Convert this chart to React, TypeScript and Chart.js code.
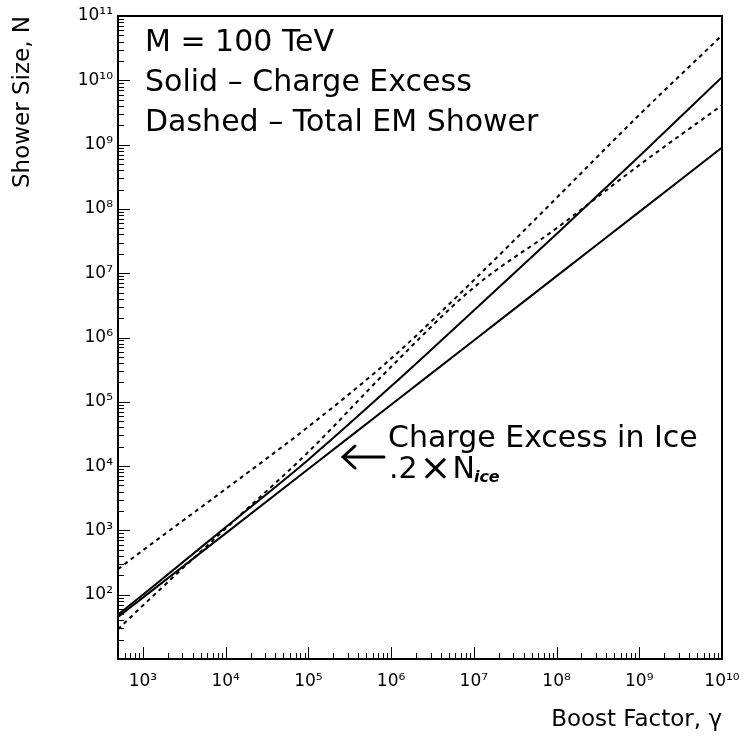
import React, { useEffect, useRef } from "react";
import { Chart, registerables } from "chart.js";

Chart.register(...registerables);

// Boost factor gamma (x) and shower sizes N (y)
const gamma = [500, 1e3, 1e4, 1e5, 1e6, 1e7, 1e8, 1e9, 1e10];
const chargeExcessSteep = [49, 100, 1120, 1.26e4, 1.74e5, 2.63e6, 4.07e7, 6.6e8, 1.12e10];
const chargeExcessIce = [45, 90, 900, 9.0e3, 9.0e4, 9.0e5, 9.0e6, 9.0e7, 9.0e8];
const totalEmUpper = [250, 490, 4400, 4.1e4, 4.7e5, 7.8e6, 1.48e8, 2.9e9, 5.0e10];
const totalEmLower = [29, 68, 1070, 1.66e4, 3.5e5, 6.0e6, 5.0e7, 4.8e8, 4.1e9];

const xMin = 500;
const xMax = 1e10;
const yMin = 10;
const yMax = 1e11;

const headerLines = ["M = 100 TeV", "Solid – Charge Excess", "Dashed – Total EM Shower"];
const noteLine1 = "Charge Excess in Ice";
const xTitle = "Boost Factor, γ";
const yTitle = "Shower Size, N";

const FONT = '"DejaVu Sans", sans-serif';

const SUP: Record<string, string> = {
  "0": "⁰", "1": "¹", "2": "²", "3": "³", "4": "⁴",
  "5": "⁵", "6": "⁶", "7": "⁷", "8": "⁸", "9": "⁹",
};

function decadeExp(v: number): number | null {
  const l = Math.log10(v);
  const e = Math.round(l);
  return Math.abs(l - e) < 1e-9 ? e : null;
}

function powLabel(v: number): string {
  const e = decadeExp(v);
  if (e === null) return "";
  return "10" + String(e).split("").map((c) => SUP[c]).join("");
}

function logTicks(min: number, max: number): number[] {
  const out: number[] = [];
  const e0 = Math.floor(Math.log10(min));
  const e1 = Math.ceil(Math.log10(max));
  for (let e = e0; e <= e1; e++) {
    for (let s = 1; s <= 9; s++) {
      const v = s * Math.pow(10, e);
      if (v >= min * 0.999999 && v <= max * 1.000001) out.push(v);
    }
  }
  return out;
}

const xTickValues = logTicks(xMin, xMax);
const yTickValues = logTicks(yMin, yMax);

const framePlugin = {
  id: "frameAndNotes",
  afterDraw(chart: any) {
    const { ctx, chartArea: a, scales } = chart;
    ctx.save();
    ctx.strokeStyle = "#000";
    ctx.fillStyle = "#000";
    // minor / major tick marks pointing inward
    ctx.lineWidth = 1;
    for (const t of scales.x.ticks) {
      const px = Math.round(scales.x.getPixelForValue(t.value)) + 0.5;
      const len = decadeExp(t.value) !== null ? 12 : 6;
      ctx.beginPath();
      ctx.moveTo(px, a.bottom);
      ctx.lineTo(px, a.bottom - len);
      ctx.stroke();
    }
    for (const t of scales.y.ticks) {
      const py = Math.round(scales.y.getPixelForValue(t.value)) + 0.5;
      const len = decadeExp(t.value) !== null ? 12 : 6;
      ctx.beginPath();
      ctx.moveTo(a.left, py);
      ctx.lineTo(a.left + len, py);
      ctx.stroke();
    }
    // frame
    ctx.lineWidth = 2;
    ctx.strokeRect(a.left, a.top, a.right - a.left, a.bottom - a.top);

    // header text
    ctx.font = `30px ${FONT}`;
    ctx.textBaseline = "alphabetic";
    ctx.textAlign = "left";
    const baselines = [51, 91, 131];
    headerLines.forEach((s, i) => ctx.fillText(s, a.left + 27, a.top + baselines[i] - 16));

    // annotation
    const ax = a.left + 270;
    const ay = a.top + 431;
    ctx.fillText(noteLine1, ax, ay);
    let x = ax + 1;
    const y2 = ay + 31;
    ctx.fillText(".2", x, y2);
    x += ctx.measureText(".2").width + 2;
    ctx.font = `38px ${FONT}`;
    ctx.fillText("×", x, y2 + 2);
    x += ctx.measureText("×").width + 1;
    ctx.font = `30px ${FONT}`;
    ctx.fillText("N", x, y2);
    x += ctx.measureText("N").width;
    ctx.font = `italic bold 16px ${FONT}`;
    ctx.fillText("ice", x - 1, y2 + 4);

    // arrow
    ctx.lineWidth = 3;
    ctx.lineCap = "round";
    const arX0 = a.left + 225;
    const arX1 = a.left + 266;
    const arY = a.top + 441;
    ctx.beginPath();
    ctx.moveTo(arX1, arY);
    ctx.lineTo(arX0, arY);
    ctx.moveTo(arX0 + 12, arY - 11);
    ctx.lineTo(arX0, arY);
    ctx.lineTo(arX0 + 12, arY + 11);
    ctx.stroke();
    ctx.restore();
  },
};

function series(values: number[]) {
  return gamma.map((g, i) => ({ x: g, y: values[i] }));
}

export default function App() {
  const ref = useRef<HTMLCanvasElement | null>(null);

  useEffect(() => {
    if (!ref.current) return;
    const common = {
      borderColor: "#000",
      borderWidth: 2,
      pointRadius: 0,
      fill: false,
      cubicInterpolationMode: "monotone" as const,
    };
    const chart = new Chart(ref.current, {
      type: "line",
      data: {
        datasets: [
          { label: "Charge excess", data: series(chargeExcessSteep), ...common },
          { label: "Charge excess in ice (.2×N_ice)", data: series(chargeExcessIce), ...common },
          { label: "Total EM shower (upper)", data: series(totalEmUpper), ...common, borderDash: [4, 4] },
          { label: "Total EM shower (lower)", data: series(totalEmLower), ...common, borderDash: [4, 4] },
        ],
      },
      options: {
        animation: false,
        responsive: true,
        maintainAspectRatio: false,
        layout: { padding: { top: 16, right: 22, left: 0, bottom: 0 } },
        plugins: { legend: { display: false }, tooltip: { enabled: false } },
        scales: {
          x: {
            type: "logarithmic",
            min: xMin,
            max: xMax,
            afterBuildTicks: (s: any) => {
              s.ticks = xTickValues.map((v) => ({ value: v }));
            },
            afterFit: (s: any) => {
              s.height = 77;
              s.paddingLeft = 0;
              s.paddingRight = 0;
            },
            grid: { display: false, drawTicks: false, tickLength: 0 },
            border: { display: false },
            ticks: {
              autoSkip: false,
              maxRotation: 0,
              minRotation: 0,
              padding: 12,
              color: "#000",
              font: { family: FONT, size: 17 },
              callback: (v: any) => powLabel(Number(v)),
            },
            title: {
              display: true,
              text: xTitle,
              align: "end",
              color: "#000",
              font: { family: FONT, size: 23 },
              padding: { top: 0, bottom: 2 },
            },
          },
          y: {
            type: "logarithmic",
            min: yMin,
            max: yMax,
            afterBuildTicks: (s: any) => {
              s.ticks = yTickValues.map((v) => ({ value: v }));
            },
            afterFit: (s: any) => {
              s.width = 118;
              s.paddingTop = 0;
              s.paddingBottom = 0;
            },
            grid: { display: false, drawTicks: false, tickLength: 0 },
            border: { display: false },
            ticks: {
              autoSkip: false,
              padding: 5,
              color: "#000",
              font: { family: FONT, size: 17 },
              callback: (v: any) => (Number(v) === yMin ? "" : powLabel(Number(v))),
            },
            title: {
              display: true,
              text: yTitle,
              align: "end",
              color: "#000",
              font: { family: FONT, size: 23 },
              padding: { top: 9, bottom: 0 },
            },
          },
        },
      },
      plugins: [framePlugin],
    });
    return () => chart.destroy();
  }, []);

  return (
    <div
      style={{
        position: "fixed",
        left: 0,
        top: 0,
        width: 744,
        height: 736,
        background: "#fff",
      }}
    >
      <canvas ref={ref} />
    </div>
  );
}
